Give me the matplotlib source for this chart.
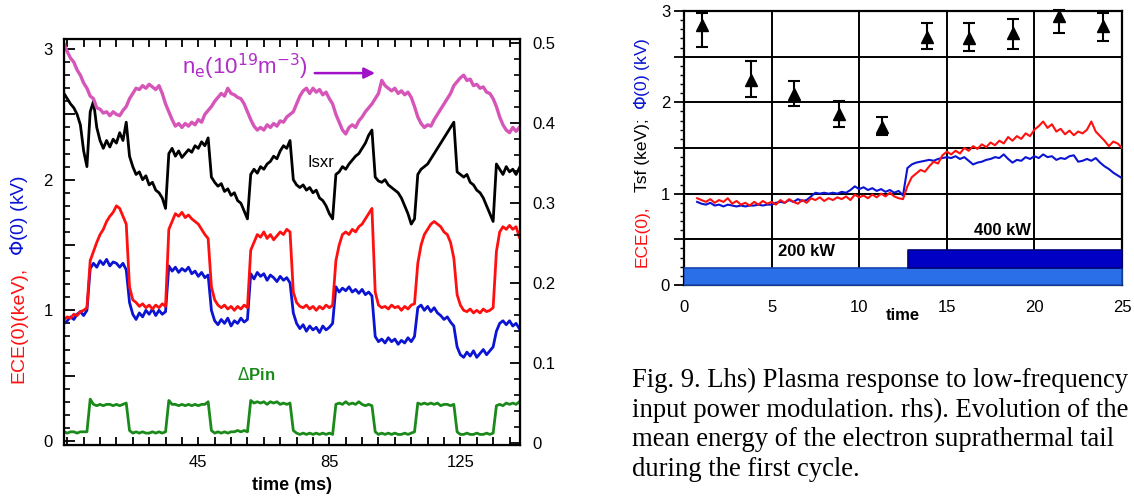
"""
Two-panel figure: power modulation response (left) and suprathermal tail (right).
"""

import numpy as np
import matplotlib.pyplot as plt
from matplotlib.ticker import MultipleLocator


plt.rcParams["font.family"] = ["Liberation Sans", "DejaVu Sans"]
plt.rcParams["font.size"] = 12


# ---------------------------------------------------------
# Data - left panel (sampled every 1 ms, 4..143 ms)
# ---------------------------------------------------------

t_ms = np.arange(4, 144)

ne = [
    3.04, 2.98, 2.93, 2.90, 2.84, 2.80, 2.74, 2.70, 2.64, 2.62,
    2.55, 2.54, 2.51, 2.52, 2.49, 2.52, 2.50, 2.49, 2.53, 2.56,
    2.62, 2.66, 2.70, 2.69, 2.72, 2.70, 2.73, 2.71, 2.69, 2.72,
    2.66, 2.58, 2.52, 2.46, 2.41, 2.43, 2.40, 2.43, 2.41, 2.44,
    2.42, 2.46, 2.44, 2.50, 2.53, 2.56, 2.60, 2.63, 2.66, 2.64,
    2.70, 2.66, 2.65, 2.63, 2.62, 2.58, 2.52, 2.46, 2.41, 2.38,
    2.40, 2.38, 2.42, 2.40, 2.43, 2.41, 2.45, 2.44, 2.48, 2.50,
    2.52, 2.58, 2.64, 2.68, 2.70, 2.66, 2.70, 2.67, 2.69, 2.65,
    2.67, 2.62, 2.58, 2.50, 2.44, 2.38, 2.35, 2.40, 2.42, 2.40,
    2.45, 2.48, 2.52, 2.55, 2.58, 2.62, 2.66, 2.76, 2.72, 2.70,
    2.68, 2.70, 2.66, 2.68, 2.65, 2.67, 2.63, 2.56, 2.48, 2.43,
    2.40, 2.42, 2.41, 2.46, 2.50, 2.54, 2.58, 2.62, 2.66, 2.72,
    2.75, 2.78, 2.80, 2.76, 2.77, 2.72, 2.73, 2.70, 2.71, 2.67,
    2.66, 2.62, 2.56, 2.48, 2.42, 2.38, 2.36, 2.40, 2.37, 2.40,
]

isxr = [
    2.66, 2.62, 2.58, 2.55, 2.50, 2.42, 2.22, 2.10, 2.52, 2.60,
    2.40, 2.30, 2.24, 2.30, 2.25, 2.31, 2.28, 2.36, 2.30, 2.44,
    2.18, 2.10, 2.04, 2.06, 2.00, 2.03, 1.96, 1.98, 1.92, 1.90,
    1.86, 1.78, 2.20, 2.24, 2.18, 2.22, 2.17, 2.20, 2.23, 2.21,
    2.26, 2.24, 2.29, 2.26, 2.32, 2.02, 1.98, 1.95, 1.97, 1.91,
    1.93, 1.88, 1.90, 1.84, 1.82, 1.76, 1.70, 2.04, 2.08, 2.05,
    2.10, 2.08, 2.12, 2.14, 2.18, 2.16, 2.22, 2.26, 2.24, 2.30,
    2.00, 1.96, 1.94, 1.96, 1.92, 1.94, 1.90, 1.92, 1.86, 1.84,
    1.80, 1.74, 1.70, 2.04, 2.06, 2.10, 2.08, 2.12, 2.15, 2.18,
    2.20, 2.24, 2.28, 2.34, 2.38, 2.02, 1.99, 1.98, 2.00, 1.96,
    1.94, 1.92, 1.90, 1.86, 1.80, 1.74, 1.66, 1.70, 2.04, 2.08,
    2.10, 2.12, 2.16, 2.20, 2.24, 2.28, 2.32, 2.36, 2.40, 2.44,
    2.06, 2.04, 2.02, 2.04, 1.98, 1.96, 1.92, 1.90, 1.86, 1.80,
    1.74, 1.68, 2.12, 2.08, 2.04, 2.10, 2.06, 2.08, 2.04, 2.09,
]

ece = [
    0.93, 0.95, 0.94, 0.97, 0.96, 0.99, 1.00, 1.02, 1.38, 1.45,
    1.52, 1.58, 1.62, 1.68, 1.72, 1.75, 1.80, 1.78, 1.72, 1.66,
    1.18, 1.08, 1.06, 1.03, 1.05, 1.02, 1.04, 1.01, 1.04, 1.02,
    1.05, 1.03, 1.62, 1.68, 1.74, 1.72, 1.75, 1.71, 1.73, 1.70,
    1.68, 1.66, 1.62, 1.58, 1.55, 1.18, 1.08, 1.04, 1.02, 1.04,
    1.01, 1.03, 1.00, 1.03, 1.01, 1.04, 1.02, 1.46, 1.52, 1.58,
    1.56, 1.60, 1.55, 1.58, 1.54, 1.57, 1.60, 1.58, 1.62, 1.60,
    1.14, 1.06, 1.03, 1.02, 1.04, 1.01, 1.03, 1.00, 1.03, 1.01,
    1.04, 1.02, 1.04, 1.38, 1.50, 1.58, 1.60, 1.58, 1.62, 1.60,
    1.64, 1.66, 1.70, 1.74, 1.78, 1.14, 1.04, 1.02, 1.03, 1.01,
    1.04, 1.02, 1.03, 1.00, 1.03, 1.01, 1.04, 1.05, 1.36, 1.50,
    1.58, 1.62, 1.66, 1.68, 1.66, 1.64, 1.60, 1.58, 1.52, 1.40,
    1.12, 1.04, 1.00, 0.99, 1.01, 0.98, 1.00, 0.98, 1.01, 0.99,
    1.00, 1.02, 1.45, 1.60, 1.64, 1.62, 1.65, 1.62, 1.64, 1.56,
]

phi = [
    0.90, 0.92, 0.95, 0.93, 0.97, 0.99, 0.96, 1.00, 1.32, 1.36,
    1.33, 1.38, 1.35, 1.39, 1.34, 1.37, 1.36, 1.33, 1.36, 1.31,
    1.06, 0.97, 0.93, 0.98, 0.95, 1.00, 0.97, 1.01, 0.96, 1.00,
    0.97, 0.99, 1.34, 1.30, 1.33, 1.29, 1.32, 1.30, 1.33, 1.28,
    1.30, 1.26, 1.29, 1.25, 1.27, 1.00, 0.92, 0.89, 0.93, 0.90,
    0.94, 0.88, 0.92, 0.90, 0.94, 0.91, 0.93, 1.28, 1.24, 1.29,
    1.26, 1.28, 1.23, 1.27, 1.25, 1.22, 1.26, 1.23, 1.25, 1.21,
    0.98, 0.90, 0.86, 0.89, 0.84, 0.88, 0.85, 0.87, 0.83, 0.88,
    0.85, 0.87, 0.90, 1.18, 1.14, 1.17, 1.15, 1.18, 1.14, 1.16,
    1.13, 1.16, 1.12, 1.14, 1.11, 0.80, 0.76, 0.78, 0.75, 0.79,
    0.76, 0.78, 0.74, 0.77, 0.75, 0.79, 0.76, 0.80, 1.02, 1.04,
    1.00, 1.03, 0.99, 1.02, 0.98, 0.96, 0.93, 0.95, 0.91, 0.88,
    0.72, 0.66, 0.64, 0.68, 0.65, 0.69, 0.64, 0.67, 0.70, 0.66,
    0.69, 0.72, 0.84, 0.90, 0.92, 0.89, 0.92, 0.88, 0.90, 0.86,
]

dpin = [
    0.07, 0.06, 0.07, 0.07, 0.06, 0.07, 0.07, 0.07, 0.32, 0.28,
    0.27, 0.28, 0.27, 0.28, 0.28, 0.27, 0.28, 0.27, 0.28, 0.29,
    0.08, 0.06, 0.07, 0.06, 0.07, 0.06, 0.06, 0.07, 0.06, 0.07,
    0.06, 0.07, 0.31, 0.28, 0.28, 0.27, 0.28, 0.27, 0.28, 0.27,
    0.28, 0.27, 0.28, 0.28, 0.30, 0.08, 0.06, 0.07, 0.06, 0.07,
    0.06, 0.07, 0.07, 0.08, 0.07, 0.08, 0.07, 0.31, 0.29, 0.30,
    0.29, 0.30, 0.28, 0.30, 0.29, 0.30, 0.28, 0.29, 0.28, 0.29,
    0.08, 0.06, 0.05, 0.06, 0.05, 0.06, 0.05, 0.06, 0.05, 0.06,
    0.05, 0.06, 0.05, 0.28, 0.29, 0.28, 0.30, 0.28, 0.29, 0.28,
    0.30, 0.28, 0.27, 0.28, 0.27, 0.07, 0.05, 0.06, 0.05, 0.06,
    0.05, 0.06, 0.05, 0.05, 0.06, 0.05, 0.06, 0.07, 0.29, 0.28,
    0.29, 0.28, 0.29, 0.28, 0.29, 0.27, 0.28, 0.28, 0.27, 0.28,
    0.07, 0.05, 0.05, 0.06, 0.05, 0.05, 0.06, 0.05, 0.05, 0.06,
    0.05, 0.06, 0.27, 0.28, 0.27, 0.29, 0.28, 0.29, 0.28, 0.30,
]

left_xtick_labels = ["45", "85", "125"]
right_scale_labels = ["0", "0.1", "0.2", "0.3", "0.4", "0.5"]


# ---------------------------------------------------------
# Data - right panel (first cycle)
# ---------------------------------------------------------

t_tail = [1.05, 3.82, 6.30, 8.85, 11.32, 13.85, 16.29, 18.8, 21.4, 23.9]
tsf = [2.85, 2.25, 2.09, 1.87, 1.73, 2.72, 2.70, 2.76, 2.94, 2.84]
tsf_low = [2.61, 2.06, 1.96, 1.73, 1.64, 2.58, 2.56, 2.58, 2.76, 2.67]
tsf_high = [2.98, 2.45, 2.23, 2.02, 1.84, 2.87, 2.87, 2.91, 3.01, 2.98]

t_cycle = np.arange(0.75, 25.01, 0.25)

ece_cycle = [
    0.95, 0.93, 0.91, 0.94, 0.90, 0.93, 0.91, 0.95,
    0.89, 0.92, 0.88, 0.90, 0.87, 0.91, 0.88, 0.92,
    0.89, 0.91, 0.88, 0.93, 0.90, 0.94, 0.91, 0.89,
    0.93, 0.90, 0.95, 0.93, 0.96, 0.92, 0.95, 0.93,
    0.96, 0.94, 0.97, 0.93, 0.99, 0.96, 0.98, 0.95,
    0.99, 0.96, 1.00, 0.97, 1.01, 0.97, 0.95, 0.94,
    1.08, 1.18, 1.22, 1.26, 1.24, 1.30, 1.35, 1.33,
    1.42, 1.46, 1.43, 1.47, 1.44, 1.50, 1.47, 1.52,
    1.49, 1.54, 1.51, 1.56, 1.53, 1.58, 1.55, 1.62,
    1.58, 1.63, 1.60, 1.66, 1.63, 1.70, 1.74, 1.79,
    1.72, 1.76, 1.68, 1.71, 1.65, 1.69, 1.64, 1.68,
    1.66, 1.70, 1.79, 1.68, 1.63, 1.58, 1.52, 1.57,
    1.55, 1.50,
]

phi_cycle = [
    0.91, 0.89, 0.88, 0.90, 0.87, 0.88, 0.86, 0.88,
    0.87, 0.86, 0.87, 0.86, 0.87, 0.87, 0.88, 0.87,
    0.88, 0.88, 0.90, 0.91, 0.90, 0.93, 0.91, 0.94,
    0.92, 0.93, 0.97, 1.01, 1.00, 1.01, 1.00, 1.01,
    1.00, 1.02, 1.01, 1.04, 1.08, 1.05, 1.07, 1.04,
    1.06, 1.03, 1.05, 1.02, 1.04, 1.01, 1.03, 0.98,
    1.28, 1.32, 1.34, 1.35, 1.36, 1.37, 1.36, 1.38,
    1.39, 1.40, 1.39, 1.41, 1.38, 1.40, 1.36, 1.32,
    1.34, 1.35, 1.37, 1.38, 1.40, 1.39, 1.43, 1.38,
    1.34, 1.37, 1.36, 1.40, 1.38, 1.41, 1.39, 1.43,
    1.40, 1.41, 1.37, 1.39, 1.38, 1.41, 1.42, 1.35,
    1.36, 1.38, 1.36, 1.39, 1.34, 1.30, 1.27, 1.23,
    1.20, 1.17,
]

# heating pulses: (start, length) in time, (bottom, height) in y
pulse_200 = [(0.0, 25.0)]
pulse_200_y = (0.0, 0.19)
pulse_400 = [(12.8, 12.2)]
pulse_400_y = (0.19, 0.19)

caption = [
    "Fig. 9. Lhs) Plasma response to low-frequency",
    "input power modulation. rhs). Evolution of the",
    "mean energy of the electron suprathermal tail",
    "during the first cycle.",
]


# ---------------------------------------------------------
# Figure
# ---------------------------------------------------------

W, H = 1134, 497
fig = plt.figure(figsize=(W / 100, H / 100), dpi=100)


def fx(px):
    return px / W


def fy(py):
    return 1 - py / H


# ---------------------------------------------------------
# Left panel
# ---------------------------------------------------------

ax = fig.add_axes([fx(64), fy(445), fx(520) - fx(64), fy(39) - fy(445)])

ax.plot(t_ms, dpin, color="#1a8a1a", lw=2.0)
ax.plot(t_ms, phi, color="#0a14d2", lw=2.0)
ax.plot(t_ms, ece, color="#ff1010", lw=2.0)
ax.plot(t_ms, isxr, color="black", lw=2.0)
ax.plot(t_ms, ne, color="#d655b8", lw=2.4)

ax.set_xlim(4, 143.2)
ax.set_ylim(-0.031, 3.077)

xt = np.arange(5, 145, 5)
ax.set_xticks(xt)
ax.set_xticklabels([str(v) if str(v) in left_xtick_labels else "" for v in xt])

ax.set_yticks(np.arange(0, 3.01, 0.5))
ax.set_yticklabels(["0", "", "1", "", "2", "", "3"])
ax.yaxis.set_minor_locator(MultipleLocator(0.1))

ax.tick_params(axis="x", direction="in", top=True, length=6, width=1.3,
               pad=7, labelsize=12)
ax.tick_params(axis="y", which="major", direction="in", length=8,
               width=1.3, pad=8, labelsize=12)
ax.tick_params(axis="y", which="minor", direction="in", length=4, width=1.2)

for s in ax.spines.values():
    s.set_linewidth(1.6)

ax.set_xlabel("time (ms)", fontsize=13, fontweight="bold", labelpad=5)

# right-hand scale
axr = ax.twinx()
axr.set_ylim(-0.0025, 0.505)
axr.set_yticks(np.arange(0, 0.51, 0.1))
axr.set_yticklabels(right_scale_labels)
axr.yaxis.set_minor_locator(MultipleLocator(0.02))
axr.tick_params(axis="y", which="major", direction="in", length=7,
                width=1.3, pad=9, labelsize=12)
axr.tick_params(axis="y", which="minor", direction="in", length=4, width=1.2)

# annotations
ax.text(40.0, 2.86, r"n$_{\rm e}$(10$^{19}$m$^{-3}$)", color="#b02cc8",
        fontsize=16, va="center", ha="left")
ax.annotate("", xy=(99.8, 2.816), xytext=(79.7, 2.816),
            arrowprops=dict(arrowstyle="-|>", color="#a010c8", lw=1.8,
                            mutation_scale=16))
ax.text(78.2, 2.135, "Isxr", color="black", fontsize=12, va="center")
ax.text(56.8, 0.505, r"$\Delta$Pin", color="#1a8a1a", fontsize=12,
        fontweight="bold", va="center")

fig.text(fx(19), fy(383), "ECE(0)(keV),", color="#ff1010", rotation=90,
         ha="center", va="bottom", fontsize=14)
fig.text(fx(19), fy(256), r"$\Phi$(0) (kV)", color="#0a14d2", rotation=90,
         ha="center", va="bottom", fontsize=14)


# ---------------------------------------------------------
# Right panel
# ---------------------------------------------------------

ax2 = fig.add_axes([fx(684), fy(285), fx(1122) - fx(684), fy(11) - fy(285)])

ax2.broken_barh(pulse_200, pulse_200_y, facecolors="#2a6ee8",
                edgecolors="#1746b0", linewidth=1.2, zorder=3)
ax2.broken_barh(pulse_400, pulse_400_y, facecolors="#0000c4",
                edgecolors="#00007a", linewidth=1.2, zorder=3)

ax2.plot(t_cycle, phi_cycle, color="#0a14d2", lw=1.5, zorder=4)
ax2.plot(t_cycle, ece_cycle, color="#ff1010", lw=1.5, zorder=4)

ax2.errorbar(t_tail, tsf,
             yerr=[np.subtract(tsf, tsf_low), np.subtract(tsf_high, tsf)],
             fmt="^", color="black", ms=9, capsize=4, elinewidth=1.5,
             capthick=1.5, zorder=5, clip_on=False)

ax2.text(7.0, 0.37, "200 kW", fontsize=12, fontweight="heavy",
         ha="center", va="center", zorder=6)
ax2.text(18.2, 0.60, "400 kW", fontsize=12, fontweight="heavy",
         ha="center", va="center", zorder=6)

ax2.set_xlim(0, 25)
ax2.set_ylim(0, 3)
ax2.set_xticks(np.arange(0, 26, 5))
ax2.set_yticks(np.arange(0, 3.01, 0.5))
ax2.set_yticklabels(["0", "", "1", "", "2", "", "3"])
ax2.yaxis.set_minor_locator(MultipleLocator(0.1))
ax2.grid(True, color="black", lw=1.4)
ax2.set_axisbelow(True)

ax2.tick_params(axis="x", length=0, pad=11, labelsize=12)
ax2.tick_params(axis="y", which="major", direction="out", length=7,
                width=1.3, pad=3, labelsize=12)
ax2.tick_params(axis="y", which="minor", direction="out", length=3, width=1)

for s in ax2.spines.values():
    s.set_linewidth(1.6)

ax2.set_xlabel("time", fontsize=12, fontweight="bold", labelpad=-5)

fig.text(fx(642), fy(267), "ECE(0),", color="#ff1010", rotation=90,
         ha="center", va="bottom", fontsize=12.5)
fig.text(fx(642), fy(192), "Tsf (keV);", color="black", rotation=90,
         ha="center", va="bottom", fontsize=12.5)
fig.text(fx(642), fy(110), r"$\Phi$(0) (kV)", color="#0a14d2", rotation=90,
         ha="center", va="bottom", fontsize=12.5)


# ---------------------------------------------------------
# Caption
# ---------------------------------------------------------

for i, line in enumerate(caption):
    fig.text(fx(632), fy(387 + 29.7 * i), line, fontsize=19.2,
             family=["Liberation Serif", "DejaVu Serif"],
             ha="left", va="baseline")

fig.savefig("out.png", dpi=100)
